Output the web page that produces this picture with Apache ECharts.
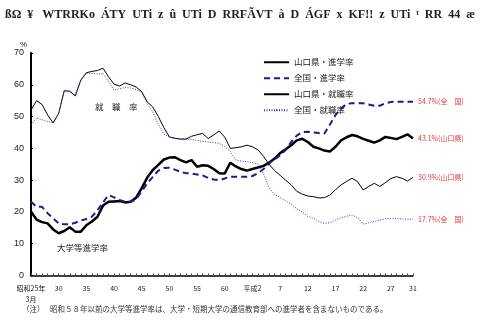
<!DOCTYPE html>
<html>
<head>
<meta charset="utf-8">
<script src="https://cdn.jsdelivr.net/npm/echarts@6/dist/echarts.min.js"></script>
<style>
html, body { margin: 0; padding: 0; background: #fff; }
#chart { width: 480px; height: 320px; }
</style>
</head>
<body>
<div id="chart"></div>
<script>
// 年（昭和25年3月 ～ 平成31年3月）
var years = [];
for (var y = 1950; y <= 2019; y++) years.push(y);

// 山口県・進学率
var yamaShingaku = [20.1, 17.6, 16.8, 16.4, 14.5, 13.3, 14.0, 15.2, 13.8, 13.8,
  15.8, 17.0, 18.5, 22.0, 23.2, 23.3, 23.4, 23.0, 23.2, 24.5,
  27.5, 30.8, 33.2, 34.8, 36.5, 37.1, 37.2, 36.3, 35.6, 36.3,
  34.2, 34.7, 34.5, 33.5, 32.2, 32.1, 35.5, 34.3, 33.5, 33.0,
  33.5, 34.0, 34.5, 35.5, 36.8, 38.5, 39.7, 41.0, 42.5, 43.0,
  42.0, 40.5, 40.0, 39.3, 39.0, 40.5, 42.5, 43.5, 44.2, 43.8,
  43.0, 42.4, 41.8, 42.5, 43.6, 43.3, 42.9, 43.6, 44.4, 43.1];
// 全国・進学率
var zenShingaku = [23.2, 21.6, 21.6, 19.6, 18.0, 16.4, 16.1, 16.1, 16.6, 17.3,
  17.8, 18.5, 20.5, 23.0, 25.3, 24.6, 23.8, 23.2, 23.2, 24.0,
  26.5, 29.0, 31.0, 33.0, 33.8, 33.9, 33.3, 32.6, 32.2, 32.1,
  31.8, 31.5, 30.7, 30.2, 30.0, 30.5, 31.1, 31.1, 31.1, 31.1,
  31.3, 32.2, 33.5, 35.3, 36.5, 37.8, 39.5, 42.0, 44.0, 45.1,
  45.2, 45.0, 44.8, 44.7, 47.5, 50.5, 52.5, 54.0, 54.2, 54.2,
  54.2, 53.8, 53.4, 53.4, 54.2, 54.6, 54.7, 54.7, 54.7, 54.7];
// 山口県・就職率
var yamaShushoku = [52.0, 55.0, 53.8, 50.5, 48.0, 51.0, 58.1, 58.0, 56.5, 61.5,
  63.8, 64.2, 64.5, 65.2, 62.5, 60.2, 59.6, 60.6, 60.0, 59.3,
  57.8, 54.6, 53.0, 50.0, 46.5, 43.6, 43.2, 42.9, 42.9, 43.8,
  44.3, 44.7, 43.1, 44.2, 45.5, 43.5, 40.0, 40.2, 40.5, 41.0,
  40.5, 39.5, 37.5, 35.0, 33.0, 31.5, 30.0, 28.5, 26.5, 25.6,
  25.0, 24.8, 24.4, 24.5, 25.3, 27.0, 28.5, 29.6, 30.6, 29.5,
  26.9, 28.0, 29.0, 28.0, 29.2, 30.5, 31.1, 30.6, 29.7, 30.9];
// 全国・就職率
var zenShushoku = [47.3, 49.6, 49.0, 48.5, 48.0, 51.0, 58.3, 57.7, 57.0, 61.3,
  63.6, 63.6, 63.4, 63.5, 61.0, 58.3, 58.8, 59.1, 59.0, 58.5,
  57.6, 53.9, 51.5, 47.5, 44.5, 43.5, 43.0, 43.0, 43.0, 42.8,
  42.5, 42.2, 42.0, 41.8, 41.6, 40.5, 39.0, 36.3, 36.0, 35.8,
  35.5, 35.1, 32.0, 27.5, 25.5, 24.5, 23.5, 22.5, 21.0, 20.0,
  18.6, 18.0, 17.0, 16.4, 16.6, 17.4, 18.2, 18.6, 19.0, 18.2,
  16.2, 16.6, 17.0, 17.4, 17.8, 18.0, 17.9, 17.8, 17.7, 17.7];

// x軸の目盛ラベル
var tickYears = [1950, 1955, 1960, 1965, 1970, 1975, 1980, 1985, 1990, 1995, 2000, 2005, 2010, 2015, 2019];
var tickLabels = ['昭和25年\n3月', '30', '35', '40', '45', '50', '55', '60', '平成2', '7', '12', '17', '22', '27', '31'];

var seriesNames = ['山口県・進学率', '全国・進学率', '山口県・就職率', '全国・就職率'];
var endTexts = ['43.1%(山口県)', '54.7%(全　国)', '30.9%(山口県)', '17.7%(全　国)'];

var JP = '"Noto Sans CJK JP", sans-serif';
var RED = '#e8383d';

function pairs(vals) {
  return years.map(function (yr, i) { return [yr, vals[i]]; });
}

function mkSeries(idx, vals, color, width, type) {
  return {
    name: seriesNames[idx],
    type: 'line',
    data: pairs(vals),
    symbol: 'none',
    smooth: false,
    lineStyle: { color: color, width: width, type: type },
    itemStyle: { color: color },
    endLabel: {
      show: true,
      formatter: endTexts[idx],
      color: RED,
      fontSize: 7,
      fontFamily: JP,
      distance: 5
    },
    z: 3 + idx
  };
}

var chart = echarts.init(document.getElementById('chart'), null, { renderer: 'canvas' });

chart.setOption({
  animation: false,
  backgroundColor: '#fff',
  title: {
    text: 'ßΩ  ¥   WTRRKo  ÁTY  UTi  z  û  UTi  D  RRFÃVT  à  D  ÁGF  x  KF!!  z  UTi  ᵗ  RR  44  æ',
    left: 0,
    top: 4,
    textStyle: { fontFamily: '"Liberation Serif", serif', fontSize: 12, fontWeight: 'bold', color: '#222' }
  },
  legend: {
    orient: 'vertical',
    left: 258,
    top: 53,
    itemWidth: 25,
    itemHeight: 2,
    itemGap: 7.5,
    data: seriesNames,
    textStyle: { fontFamily: JP, fontSize: 8.5, color: '#222' }
  },
  grid: { left: 31, right: 67, top: 53, bottom: 44.5 },
  xAxis: {
    type: 'value',
    min: 1950,
    max: 2019,
    interval: 1,
    splitLine: { show: false },
    axisLine: { lineStyle: { color: '#000', width: 1.5 } },
    axisTick: { show: true, inside: true, length: 2, lineStyle: { color: '#444', width: 1 } },
    axisLabel: {
      margin: 7,
      fontSize: 7,
      fontFamily: JP,
      color: '#222',
      lineHeight: 11,
      showMinLabel: true,
      showMaxLabel: true,
      formatter: function (v) {
        var k = tickYears.indexOf(v);
        return k >= 0 ? tickLabels[k] : '';
      }
    }
  },
  yAxis: {
    type: 'value',
    min: 0,
    max: 70,
    interval: 10,
    name: '%',
    nameLocation: 'end',
    nameGap: 4,
    nameTextStyle: { fontSize: 8, color: '#222', align: 'right', padding: [0, 4, 0, 0] },
    splitLine: { show: false },
    axisLine: { show: true, lineStyle: { color: '#000', width: 2 } },
    axisTick: { show: true, inside: true, length: 2, lineStyle: { color: '#000' } },
    axisLabel: { fontSize: 9, color: '#222', margin: 7, fontFamily: 'Arial, "Liberation Sans", sans-serif' }
  },
  graphic: [
    { type: 'text', left: 95, top: 103, style: { text: '就　職　率', fontSize: 8.5, fontFamily: JP, fill: '#222' } },
    { type: 'text', left: 57, top: 244, style: { text: '大学等進学率', fontSize: 8.5, fontFamily: JP, fill: '#222' } },
    { type: 'text', left: 22, top: 305, style: { text: '（注）　 昭和５８年以前の大学等進学率は、大学・短期大学の通信教育部への進学者を含まないものである。', fontSize: 7.5, fontFamily: JP, fill: '#333' } }
  ],
  series: [
    mkSeries(0, yamaShingaku, '#000000', 2.5, 'solid'),
    mkSeries(1, zenShingaku, '#1c1c8a', 2, [6, 4]),
    mkSeries(2, yamaShushoku, '#000000', 1, 'solid'),
    mkSeries(3, zenShushoku, '#3a3ad0', 1, [1, 1.5])
  ]
});
</script>
</body>
</html>
